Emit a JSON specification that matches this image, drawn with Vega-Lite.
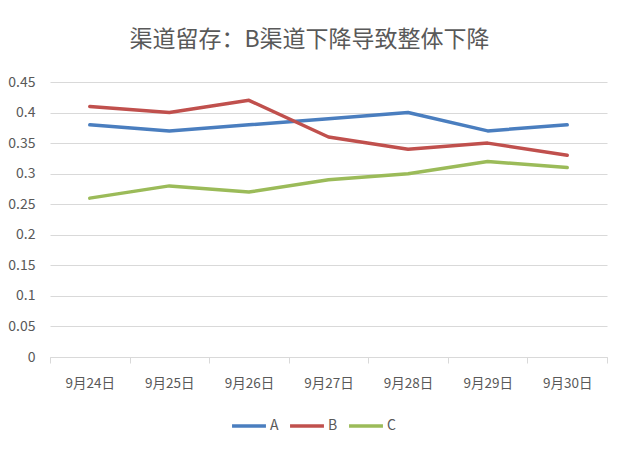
{
  "$schema": "https://vega.github.io/schema/vega-lite/v6.json",
  "width": 557,
  "height": 275,
  "autosize": {"type": "none"},
  "padding": {"left": 50, "top": 82, "right": 29, "bottom": 103},
  "background": "white",
  "title": {
    "text": "渠道留存：B渠道下降导致整体下降",
    "font": "Noto Sans CJK SC",
    "fontSize": 23,
    "fontWeight": "normal",
    "color": "#595959",
    "anchor": "middle",
    "dx": -19,
    "offset": 23
  },
  "data": {
    "values": [
      {"date": "9月24日", "series": "A", "value": 0.38},
      {"date": "9月25日", "series": "A", "value": 0.37},
      {"date": "9月26日", "series": "A", "value": 0.38},
      {"date": "9月27日", "series": "A", "value": 0.39},
      {"date": "9月28日", "series": "A", "value": 0.40},
      {"date": "9月29日", "series": "A", "value": 0.37},
      {"date": "9月30日", "series": "A", "value": 0.38},
      {"date": "9月24日", "series": "B", "value": 0.41},
      {"date": "9月25日", "series": "B", "value": 0.40},
      {"date": "9月26日", "series": "B", "value": 0.42},
      {"date": "9月27日", "series": "B", "value": 0.36},
      {"date": "9月28日", "series": "B", "value": 0.34},
      {"date": "9月29日", "series": "B", "value": 0.35},
      {"date": "9月30日", "series": "B", "value": 0.33},
      {"date": "9月24日", "series": "C", "value": 0.26},
      {"date": "9月25日", "series": "C", "value": 0.28},
      {"date": "9月26日", "series": "C", "value": 0.27},
      {"date": "9月27日", "series": "C", "value": 0.29},
      {"date": "9月28日", "series": "C", "value": 0.30},
      {"date": "9月29日", "series": "C", "value": 0.32},
      {"date": "9月30日", "series": "C", "value": 0.31}
    ]
  },
  "mark": {"type": "line", "strokeWidth": 3.5, "strokeCap": "round", "strokeJoin": "round"},
  "encoding": {
    "x": {
      "field": "date",
      "type": "ordinal",
      "bandPosition": 0.5,
      "scale": {"type": "band", "paddingInner": 0, "paddingOuter": 0},
      "axis": {
        "title": null,
        "labelAngle": 0,
        "tickBand": "extent",
        "grid": false,
        "domainColor": "#d9d9d9",
        "tickColor": "#d9d9d9",
        "tickSize": 6,
        "labelPadding": 13,
        "labelFont": "Noto Sans CJK SC",
        "labelFontSize": 13.5,
        "labelColor": "#595959"
      }
    },
    "y": {
      "field": "value",
      "type": "quantitative",
      "scale": {"domain": [0, 0.45]},
      "axis": {
        "title": null,
        "values": [0, 0.05, 0.1, 0.15, 0.2, 0.25, 0.3, 0.35, 0.4, 0.45],
        "format": "~g",
        "domain": false,
        "ticks": false,
        "grid": true,
        "gridColor": "#d9d9d9",
        "gridWidth": 1,
        "labelPadding": 15,
        "labelFont": "Noto Sans CJK SC",
        "labelFontSize": 14,
        "labelColor": "#595959"
      }
    },
    "color": {
      "field": "series",
      "type": "nominal",
      "scale": {"domain": ["A", "B", "C"], "range": ["#4a7ebf", "#c0504d", "#9bbb59"]},
      "legend": {
        "title": null,
        "orient": "none",
        "direction": "horizontal",
        "legendX": 180,
        "legendY": 325,
        "symbolType": "stroke",
        "symbolSize": 1150,
        "symbolStrokeWidth": 3.5,
        "labelFont": "Noto Sans CJK SC",
        "labelFontSize": 14,
        "labelColor": "#595959",
        "labelOffset": 2,
        "columnPadding": 4
      }
    }
  },
  "config": {
    "view": {"stroke": null}
  }
}
